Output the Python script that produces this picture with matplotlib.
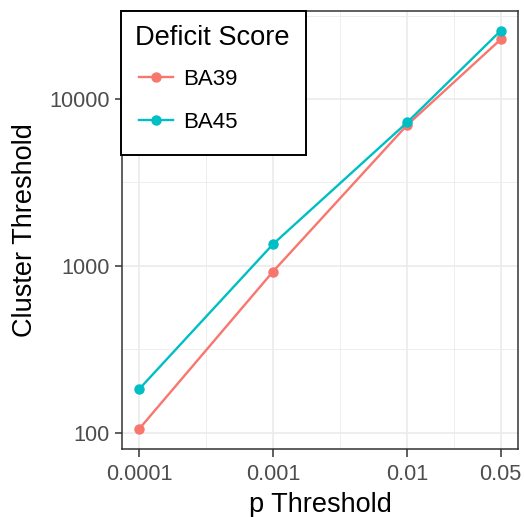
# %% Import modules
import numpy as np
import matplotlib.pyplot as plt
from matplotlib.patches import Rectangle

plt.rcParams['font.family'] = ['Liberation Sans', 'DejaVu Sans']

# %% Data
p_threshold = [0.0001, 0.001, 0.01, 0.05]
ba39 = [105, 925, 6980, 22800]
ba45 = [182, 1350, 7240, 25700]
x_labels = ['0.0001', '0.001', '0.01', '0.05']
y_ticks = [100, 1000, 10000]
y_labels = ['100', '1000', '10000']

# %% Plot
W, H = 524, 517
fig = plt.figure(figsize=(W / 100, H / 100), dpi=100)
ax = fig.add_axes([122 / W, 1 - 449 / H, 396 / W, (449 - 10.7) / H])

ax.plot(p_threshold, ba39, '-o', color='#F8766D', lw=1.7, ms=6.5, label='BA39', zorder=3)
ax.plot(p_threshold, ba45, '-o', color='#00BFC4', lw=1.7, ms=6.5, label='BA45', zorder=3)

ax.set_xscale('log')
ax.set_yscale('log')
ax.set_xlim(10 ** -4.127, 10 ** -1.172)
ax.set_ylim(10 ** 1.902, 10 ** 4.53)

# ggplot-style breaks, minor grid halfway between breaks
ax.set_xticks(p_threshold, x_labels)
ax.set_yticks(y_ticks, y_labels)
lx = np.log10(p_threshold)
ax.set_xticks(10 ** ((lx[:-1] + lx[1:]) / 2), minor=True)
ax.set_yticks([10 ** 2.5, 10 ** 3.5, 10 ** 4.5], minor=True)
ax.set_xticklabels([], minor=True)
ax.set_yticklabels([], minor=True)

ax.grid(True, which='major', color='#EBEBEB', lw=1.2)
ax.grid(True, which='minor', color='#EBEBEB', lw=0.6)
ax.set_axisbelow(True)
ax.tick_params(which='major', length=5.4, width=1.1, color='#333333',
               labelsize=15.7, labelcolor='#4D4D4D')
ax.tick_params(axis='x', which='major', pad=5.5)
ax.tick_params(axis='y', which='major', pad=3.5)
ax.tick_params(which='minor', length=0)
for s in ax.spines.values():
    s.set_color('#333333')
    s.set_linewidth(1.1)

ax.set_xlabel('p Threshold', fontsize=19.5, labelpad=4.8)
ax.set_ylabel('Cluster Threshold', fontsize=19.5, labelpad=8)

# legend box drawn by hand so the padding matches the ggplot one
ax.add_patch(Rectangle((121 / W, 1 - 155 / H), 185 / W, (155 - 10.7) / H,
                       transform=fig.transFigure, facecolor='white',
                       edgecolor='black', lw=1.4, zorder=4.5, clip_on=False))
leg = ax.legend(title='Deficit Score', loc='upper left',
                bbox_to_anchor=(135 / W, 1 - 25 / H),
                bbox_transform=fig.transFigure, borderaxespad=0, borderpad=0,
                fontsize=16, title_fontsize=19.6, frameon=False,
                handlelength=1.5, handletextpad=0.5, labelspacing=1.01)
leg.set_zorder(5)
leg._legend_box.align = 'left'
leg._legend_box.sep = 9.8
leg._legend_handle_box.pad = 3

fig.savefig('out.png', dpi=100)
